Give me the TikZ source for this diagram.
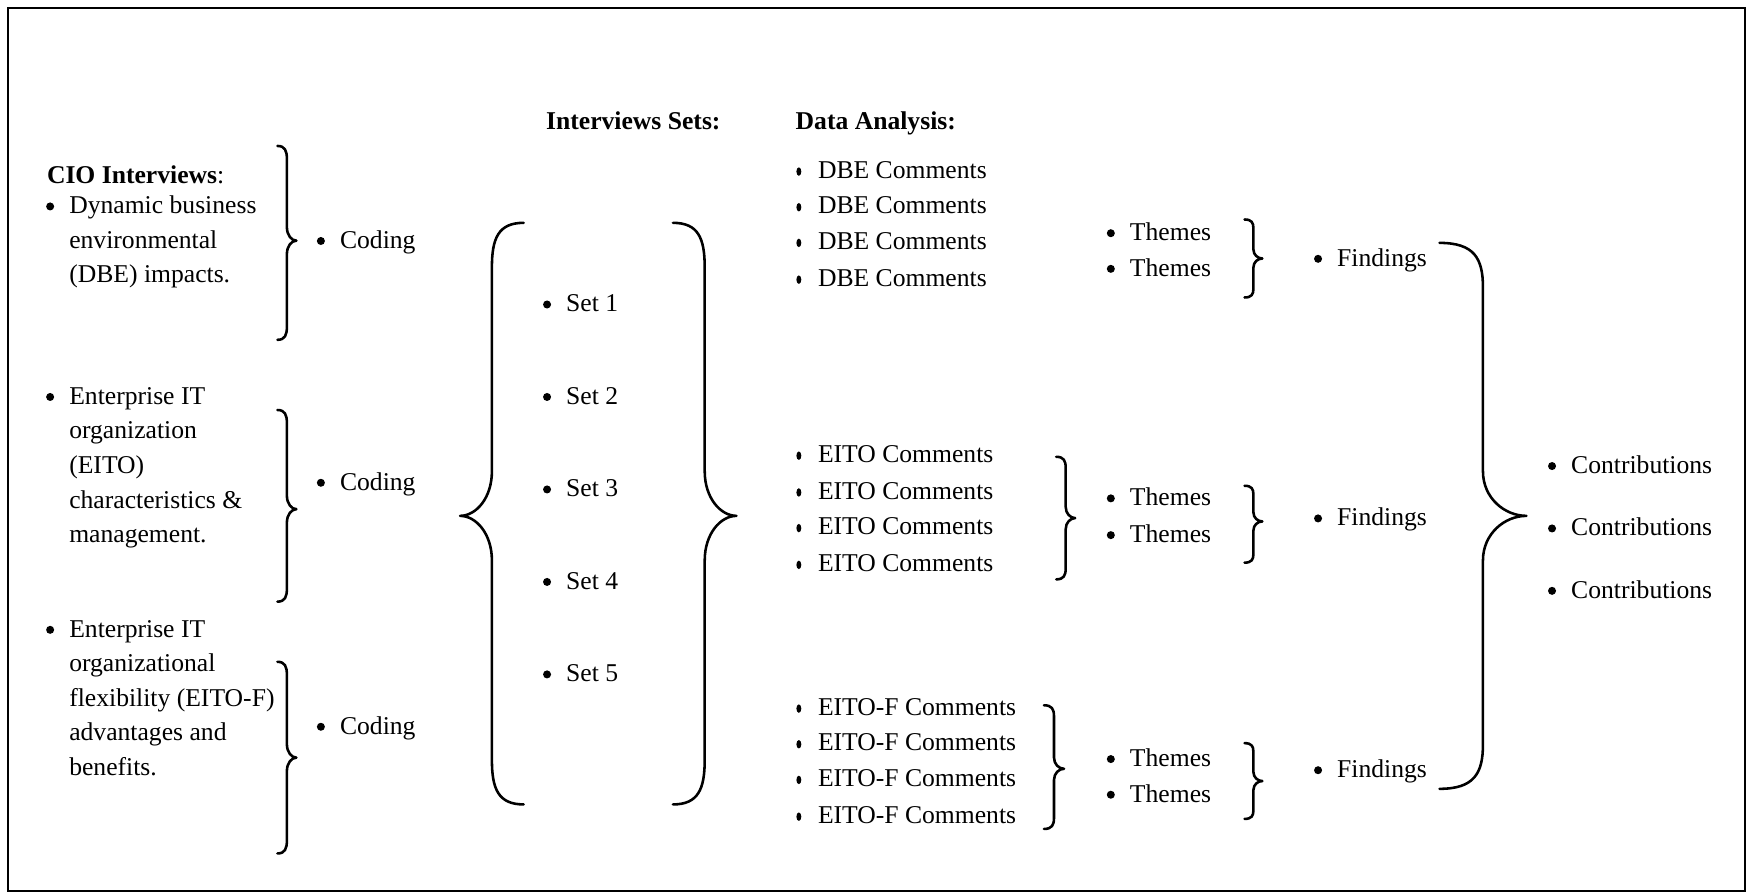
\documentclass[tikz,border=0pt]{standalone}
\usepackage{fontspec}
\setmainfont{Liberation Serif}
\usetikzlibrary{calc}

% stacked lines of one item, first line on the baseline
\newcommand\lines[1]{\begin{tabular}[t]{@{}l@{}}#1\end{tabular}}

% bulleted item: name, bullet x, baseline y, text
\newcommand\bitem[4]{%
  \node[txt] (#1) at ({#2+17},#3) {#4};
  \fill ({#2},{#3-6.7}) circle[radius=3.6pt];}
% item with the narrow comment marker
\newcommand\citem[4]{%
  \node[txt] (#1) at ({#2+17},#3) {#4};
  \fill ({#2},{#3-6}) ellipse[x radius=2.2pt, y radius=3.8pt];}

% curly brace: end x, amplitude (sign = side of tip), top y, tip y, bottom y, curl length
\newcommand\curly[6]{%
  \draw[bracestroke] (#1,#3)
    .. controls ({#1+0.4*(#2)},#3) and ({#1+0.5*(#2)},{#3+0.35*(#6)}) .. ({#1+0.5*(#2)},{#3+#6})
    -- ({#1+0.5*(#2)},{#4-(#6)})
    .. controls ({#1+0.5*(#2)},{#4-0.4*(#6)}) and ({#1+0.75*(#2)},#4) .. ({#1+#2},#4)
    .. controls ({#1+0.75*(#2)},#4) and ({#1+0.5*(#2)},{#4+0.4*(#6)}) .. ({#1+0.5*(#2)},{#4+#6})
    -- ({#1+0.5*(#2)},{#5-(#6)})
    .. controls ({#1+0.5*(#2)},{#5-0.35*(#6)}) and ({#1+0.4*(#2)},#5) .. (#1,#5);}

\tikzset{
  txt/.style={anchor=base west, inner sep=0pt, font=\fontsize{23}{31}\selectfont},
  head/.style={txt, font=\fontsize{23}{31}\selectfont\bfseries},
  bracestroke/.style={line width=2.3pt, line cap=round, line join=round},
  frame/.style={line width=1.8pt}
}

\begin{document}
\begin{tikzpicture}[x=1pt, y=-1pt]
\useasboundingbox (0,0) rectangle (1568,802);
\draw[frame] (7,7) rectangle (1566,800);

% interview topics
\node[txt] (cio) at (42,165) {\textbf{CIO Interviews}:};
\bitem{topic1}{45}{192}{\lines{Dynamic business\\environmental\\(DBE) impacts.}}
\bitem{topic2}{45}{363}{\lines{Enterprise IT\\organization\\(EITO)\\characteristics \&\\management.}}
\bitem{topic3}{45}{572}{\lines{Enterprise IT\\organizational\\flexibility (EITO-F)\\advantages and\\benefits.}}

\curly{249}{17}{131}{216}{305}{12}
\curly{249}{17}{368}{457}{540}{12}
\curly{249}{17}{594}{680}{766}{12}

\bitem{coding1}{288}{223}{Coding}
\bitem{coding2}{288}{440}{Coding}
\bitem{coding3}{288}{659}{Coding}

% interview sets
\node[head] (setshead) at (490,116) {Interviews Sets:};
\curly{470}{-57}{200}{463}{722}{40}
\curly{604}{57}{200}{463}{722}{40}
\bitem{set1}{491}{280}{Set 1}
\bitem{set2}{491}{363}{Set 2}
\bitem{set3}{491}{446}{Set 3}
\bitem{set4}{491}{529}{Set 4}
\bitem{set5}{491}{612}{Set 5}

% data analysis
\node[head] (dahead) at (714,116) {Data Analysis:};
\citem{dbe1}{717}{160}{DBE Comments}
\citem{dbe2}{717}{192}{DBE Comments}
\citem{dbe3}{717}{224}{DBE Comments}
\citem{dbe4}{717}{257}{DBE Comments}

\citem{eito1}{717}{415}{EITO Comments}
\citem{eito2}{717}{448}{EITO Comments}
\citem{eito3}{717}{480}{EITO Comments}
\citem{eito4}{717}{513}{EITO Comments}
\curly{948}{17}{410}{465}{520}{10}

\citem{eitof1}{717}{642}{EITO-F Comments}
\citem{eitof2}{717}{674}{EITO-F Comments}
\citem{eitof3}{717}{706}{EITO-F Comments}
\citem{eitof4}{717}{739}{EITO-F Comments}
\curly{937}{18}{633}{690}{744}{10}

% themes
\bitem{th1}{997}{216}{Themes}
\bitem{th2}{997}{248}{Themes}
\bitem{th3}{997}{454}{Themes}
\bitem{th4}{997}{487}{Themes}
\bitem{th5}{997}{688}{Themes}
\bitem{th6}{997}{720}{Themes}
\curly{1117}{16}{197}{232}{267}{8}
\curly{1117}{16}{436}{468}{505}{8}
\curly{1117}{16}{667}{701}{735}{8}

% findings
\bitem{find1}{1183}{239}{Findings}
\bitem{find2}{1183}{472}{Findings}
\bitem{find3}{1183}{698}{Findings}
\curly{1292}{78}{218}{463}{708}{40}

% contributions
\bitem{con1}{1393}{425}{Contributions}
\bitem{con2}{1393}{481}{Contributions}
\bitem{con3}{1393}{537}{Contributions}
\end{tikzpicture}
\end{document}
